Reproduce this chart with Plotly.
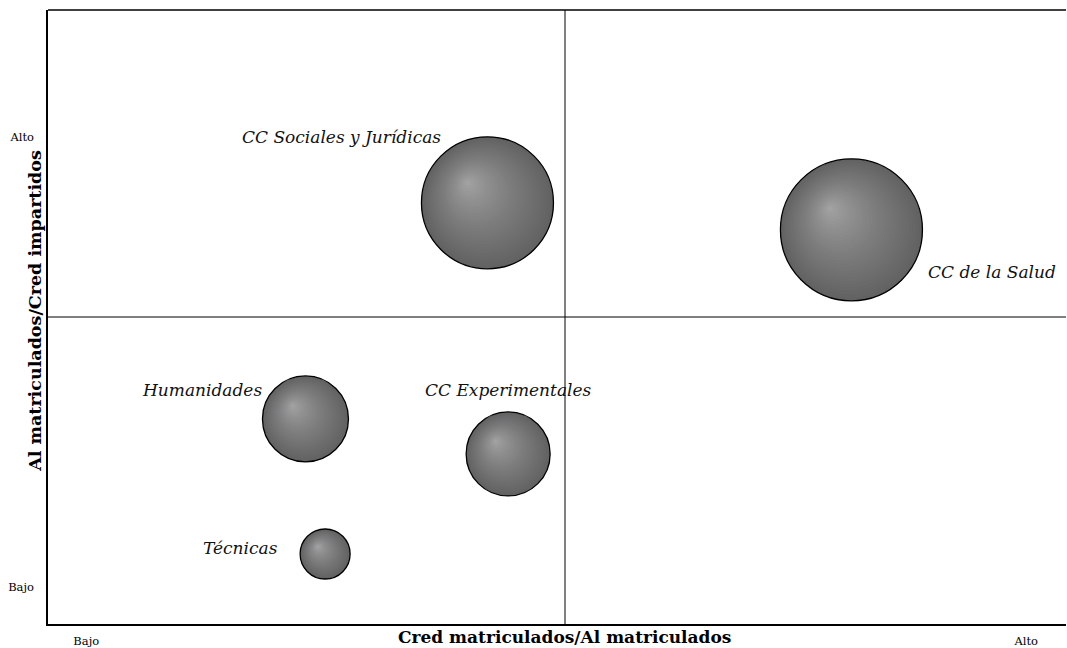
import plotly.graph_objects as go

# ---- data ----
areas = ["CC Sociales y Jurídicas", "CC de la Salud", "Humanidades", "CC Experimentales", "Técnicas"]
cred_por_al = [42.5, 77.7, 24.9, 44.5, 26.8]      # x: Cred matriculados/Al matriculados
al_por_cred = [68.6, 64.2, 33.4, 27.7, 11.4]      # y: Al matriculados/Cred impartidos
bubble_size = [132, 142, 86, 84, 50]              # bubble diameter
x_tick_vals = [3.7, 94.6]
x_tick_text = ["Bajo", "Alto"]
y_tick_vals = [79.3, 6.0]
y_tick_text = ["Alto", "Bajo"]
x_mid = 50
y_mid = 50

# ---- layout constants ----
W, H = 1067, 648
ML, MR, MT, MB = 48, 1, 10, 24
X_RANGE = [0, 98.45]
Y_RANGE = [0, 100]
plot_w = W - ML - MR
plot_h = H - MT - MB
px_x = (X_RANGE[1] - X_RANGE[0]) / plot_w
px_y = (Y_RANGE[1] - Y_RANGE[0]) / plot_h

FONT = "DejaVu Serif"

fig = go.Figure()

# shaded spheres: stacked discs shrinking toward an upper-left highlight
N = 28
HL = 0.31  # highlight offset as a fraction of the radius
for i in range(N):
    s = 1 - i / N
    v = int(round(168 - (168 - 98) * s ** 0.75))
    col = f"rgb({v},{v},{v + 1})"
    xs = [x - (1 - s) * HL * (d / 2) * px_x for x, d in zip(cred_por_al, bubble_size)]
    ys = [y + (1 - s) * HL * (d / 2) * px_y for y, d in zip(al_por_cred, bubble_size)]
    fig.add_trace(go.Scatter(
        x=xs, y=ys, mode="markers",
        marker=dict(size=[s * d for d in bubble_size], sizemode="diameter",
                    color=col, opacity=1, line=dict(width=0)),
        hoverinfo="skip", showlegend=False))

# outlines
fig.add_trace(go.Scatter(
    x=cred_por_al, y=al_por_cred, mode="markers",
    marker=dict(size=bubble_size, sizemode="diameter", color="rgba(0,0,0,0)",
                opacity=1, line=dict(color="black", width=1.3)),
    hoverinfo="text", text=areas, showlegend=False))

# labels
label_style = [
    dict(xanchor="right", xshift=-44, yshift=66),
    dict(xanchor="left", xshift=75, yshift=-42),
    dict(xanchor="right", xshift=-41, yshift=29),
    dict(xanchor="center", xshift=0, yshift=64),
    dict(xanchor="right", xshift=-45, yshift=6),
]
for name, x, y, st in zip(areas, cred_por_al, al_por_cred, label_style):
    fig.add_annotation(x=x, y=y, text=f"<i>{name}</i>", showarrow=False,
                       yanchor="middle", font=dict(family=FONT, size=17, color="#111"),
                       **st)

# quadrant lines
fig.add_shape(type="line", x0=x_mid, x1=x_mid, y0=Y_RANGE[0], y1=Y_RANGE[1],
              line=dict(color="black", width=1))
fig.add_shape(type="line", x0=X_RANGE[0], x1=X_RANGE[1], y0=y_mid, y1=y_mid,
              line=dict(color="black", width=1))
# top border
fig.add_shape(type="line", xref="paper", yref="paper", x0=0, x1=1, y0=1, y1=1,
              line=dict(color="black", width=1.5))

# axis titles
fig.add_annotation(xref="paper", yref="paper", x=(564 - ML) / plot_w, y=0,
                   yshift=-13, yanchor="middle", showarrow=False,
                   text="<b>Cred matriculados/Al matriculados</b>",
                   font=dict(family=FONT, size=17, color="black"))
fig.add_annotation(xref="paper", yref="paper", x=0, xshift=-13, y=0.51,
                   textangle=-90, showarrow=False, xanchor="center",
                   text="<b>Al matriculados/Cred impartidos</b>",
                   font=dict(family=FONT, size=17.5, color="black"))

fig.update_layout(
    width=W, height=H,
    margin=dict(l=ML, r=MR, t=MT, b=MB),
    paper_bgcolor="white", plot_bgcolor="white",
    xaxis=dict(range=X_RANGE, showgrid=False, zeroline=False,
               showline=True, linecolor="black", linewidth=1.5,
               tickvals=x_tick_vals, ticktext=x_tick_text, ticks="",
               ticklabelstandoff=5,
               tickfont=dict(family=FONT, size=11.5, color="black")),
    yaxis=dict(range=Y_RANGE, showgrid=False, zeroline=False,
               showline=True, linecolor="black", linewidth=1.5,
               tickvals=y_tick_vals, ticktext=y_tick_text, ticks="",
               ticklabelstandoff=10,
               tickfont=dict(family=FONT, size=11.5, color="black")),
)

fig.write_html("out.html", config={"displayModeBar": False},
               post_script="document.body.style.margin='0';document.body.style.overflow='hidden';")
